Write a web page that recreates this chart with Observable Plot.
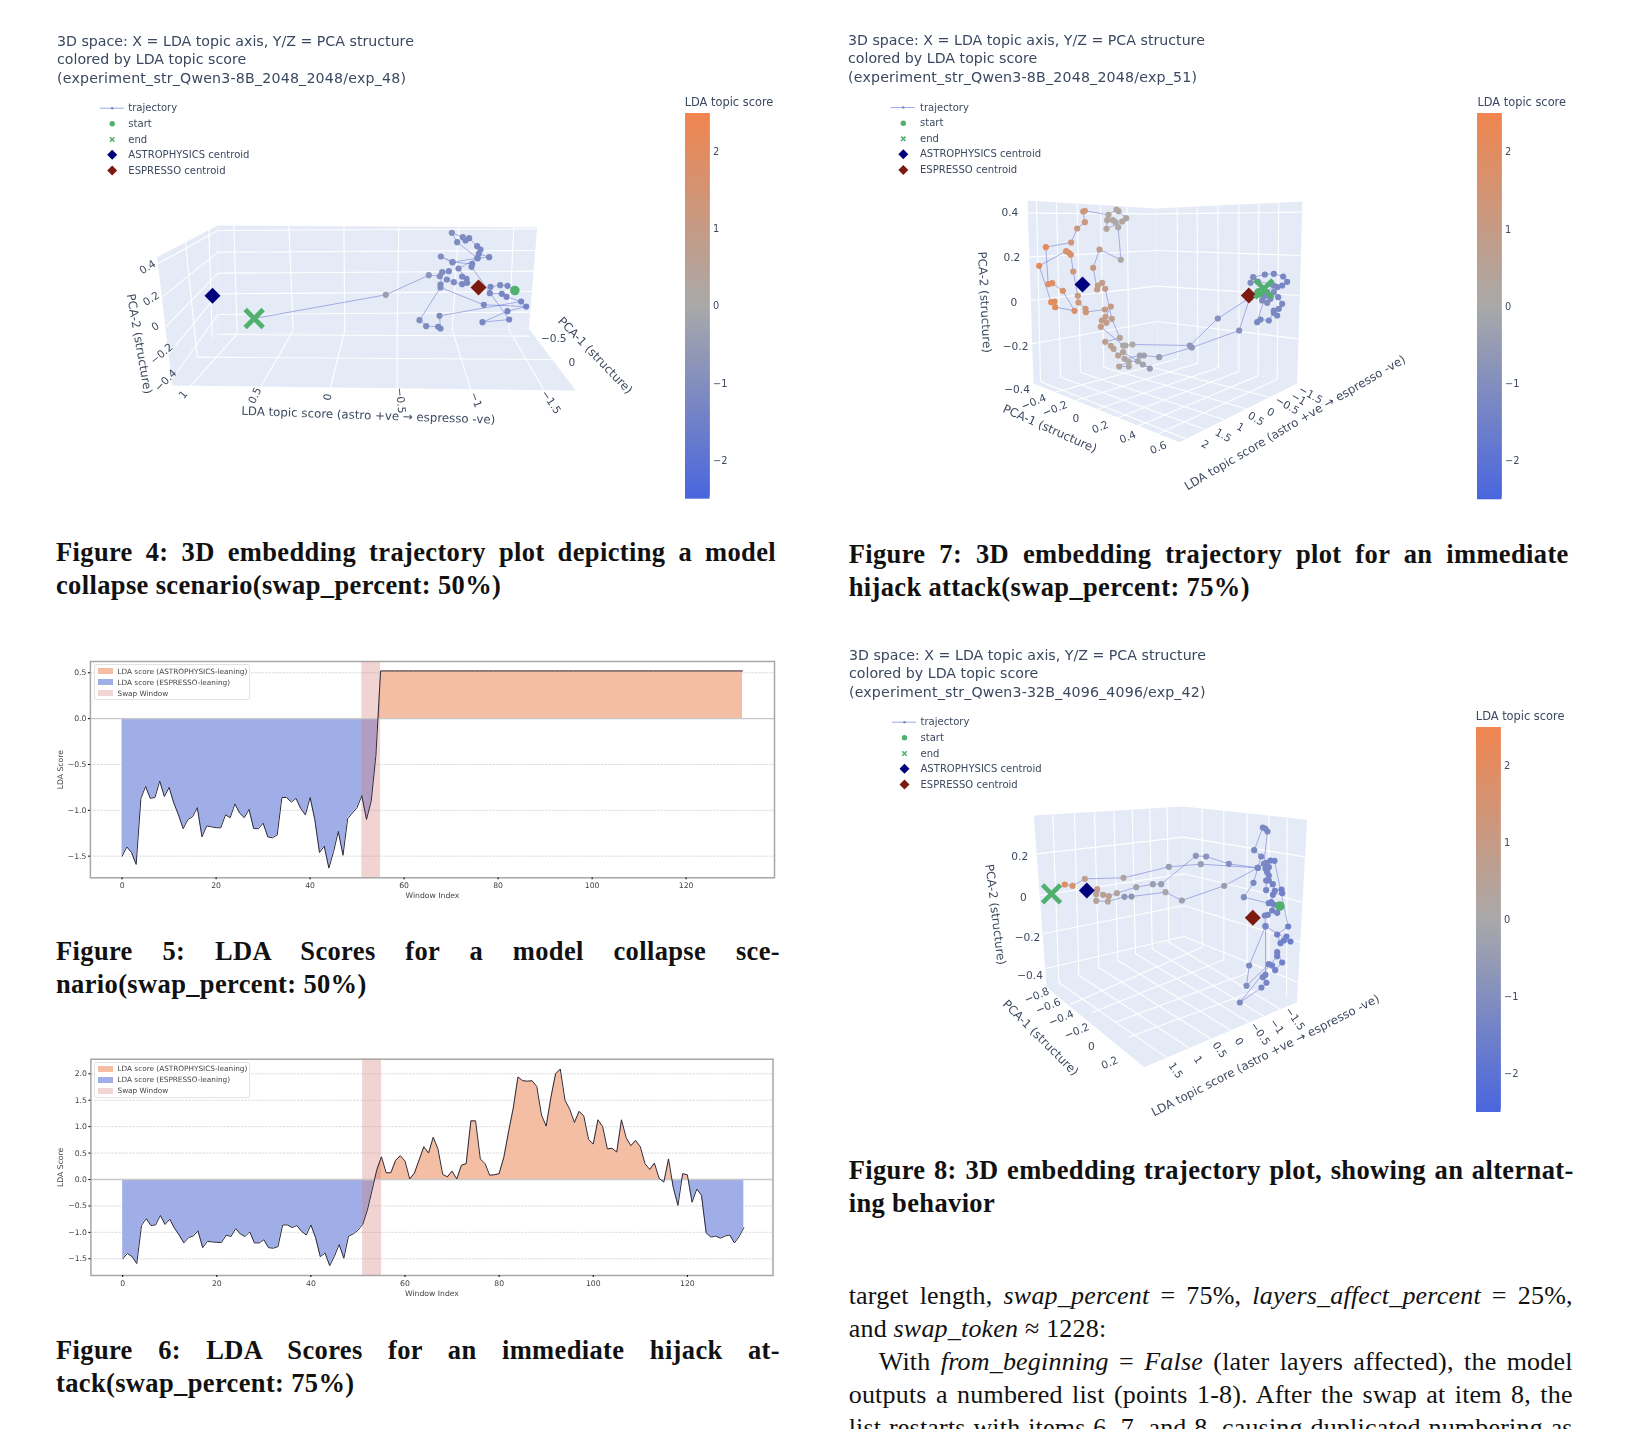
<!DOCTYPE html>
<html><head><meta charset="utf-8">
<script src="https://cdn.jsdelivr.net/npm/d3@7"></script>
<script src="https://cdn.jsdelivr.net/npm/@observablehq/plot@0.6"></script>
<style>
html,body{margin:0;padding:0;background:#fff;}
#page{position:relative;width:1628px;height:1429px;overflow:hidden;background:#fff;}
#page svg,.abs{position:absolute;}
#page svg{background:transparent;overflow:visible;filter:blur(.38px);}
.ttl{position:absolute;font-family:"DejaVu Sans";font-size:14.2px;color:#3a4860;white-space:nowrap;line-height:18.3px;filter:blur(.3px);}
.cap{position:absolute;font-family:"Liberation Serif";font-weight:bold;font-size:26.5px;letter-spacing:.36px;color:#111;white-space:nowrap;line-height:33px;}
.body{position:absolute;font-family:"Liberation Serif";font-size:26px;letter-spacing:.2px;color:#111;white-space:nowrap;line-height:33px;}
.just{text-align:justify;text-align-last:justify;white-space:normal;}
.lg{position:absolute;background:rgba(255,255,255,.85);border:1px solid #e2e2e2;border-radius:2px;font-family:"DejaVu Sans";font-size:7.3px;color:#444;filter:blur(.3px);}
.lg div{position:absolute;left:22.5px;white-space:nowrap;line-height:11px;}
.lg i{position:absolute;left:3px;width:14.5px;height:6px;}
</style></head><body><div id="page"></div>
<script>
// ---------- LDA score series (Figures 5 and 6), window index = array position ----------
const prefixScores = [-1.50,-1.40,-1.46,-1.59,-0.87,-0.74,-0.87,-0.86,-0.68,-0.85,-0.75,-0.92,-1.05,-1.20,-1.10,-1.07,-0.97,-1.29,-1.17,-1.18,-1.19,-1.19,-1.05,-1.08,-0.93,-1.03,-1.08,-0.99,-1.20,-1.20,-1.14,-1.29,-1.30,-1.27,-0.86,-0.86,-0.91,-0.87,-0.98,-1.05,-0.86,-1.10,-1.46,-1.39,-1.63,-1.45,-1.23,-1.49];
const fig5Tail = [-1.09,-1.03,-0.97,-0.84,-1.10,-0.90,-0.40,0.52,0.52,0.52,0.52,0.52,0.52,0.52,0.52,0.52,0.52,0.52,0.52,0.52,0.52,0.52,0.52,0.52,0.52,0.52,0.52,0.52,0.52,0.52,0.52,0.52,0.52,0.52,0.52,0.52,0.52,0.52,0.52,0.52,0.52,0.52,0.52,0.52,0.52,0.52,0.52,0.52,0.52,0.52,0.52,0.52,0.52,0.52,0.52,0.52,0.52,0.52,0.52,0.52,0.52,0.52,0.52,0.52,0.52,0.52,0.52,0.52,0.52,0.52,0.52,0.52,0.52,0.52,0.52,0.52,0.52,0.52,0.52,0.52,0.52,0.52,0.52,0.52,0.52];
const fig6Tail = [-1.07,-1.03,-0.96,-0.85,-0.58,-0.20,0.18,0.43,0.125,0.13,0.36,0.45,0.35,0.01,0.12,0.37,0.62,0.50,0.80,0.58,0.10,0.05,0.16,0.01,0.27,0.30,1.11,1.11,0.39,0.30,0.08,0.09,0.11,0.42,0.90,1.35,1.94,1.87,1.86,1.87,1.76,1.22,1.01,1.55,2.00,2.09,1.50,1.33,1.08,1.29,1.20,0.76,0.67,1.13,1.00,0.58,0.59,0.52,1.13,0.79,0.64,0.74,0.62,0.30,0.19,0.31,0.02,-0.05,0.39,-0.15,-0.49,0.11,0.09,-0.43,-0.18,-0.30,-1.01,-1.09,-1.07,-1.11,-1.07,-1.05,-1.20,-1.08,-0.91];
const lineLegend = ["LDA score (ASTROPHYSICS-leaning)","LDA score (ESPRESSO-leaning)","Swap Window"];
const swapWindow = [51,55];
const xTicks = [0,20,40,60,80,100,120];

// ---------- 3D panels: projected position [u, v, LDA score] ----------
const traj4 = [[1243,255,-1.2],[1221,241,-1.2],[1199,239,-1.2],[1170,244,-1.2],[1168,263,-1.25],[1204,265,-1.3],[1218,274,-1.3],[1262,288,-1.3],[1017,331,-1.1],[1020,369,-1.2],[1013,364,-1.2],[977,362,-1.1],[957,344,-1],[1020,246,-1.1],[1150,298,-1.25],[1277,303,-1.4],[1221,317,-1.3],[1146,350,-1.2],[1226,342,-1.3],[1113,184,-1.2],[1115,175,-1.2],[1056,170,-1.1],[1021,153,-1],[1056,170,-1.1],[1131,158,-1.2],[1166,155,-1.2],[1135,145,-1.2],[1140,132,-1.2],[1130,122,-1.2],[1106,98,-1.2],[1095,105,-1.2],[1087,95,-1.1],[1054,82,-1],[1070,110,-1.1],[1131,158,-1.2],[1074,189,-1.1],[1098,220,-1.2],[1085,213,-1.2],[1100,232,-1.2],[1085,236,-1.2],[1060,230,-1.1],[1039,222,-1.1],[1020,237,-1.1],[1025,200,-1.1],[1045,197,-1.1],[1018,212,-1],[985,209,-0.8],[856,268,-0.45],[461,339,0.5]];
const traj7 = [[850,300,-1.2],[835,295,-1.2],[860,290,-1.2],[880,270,-1.2],[890,275,-1.2],[905,270,-1.3],[920,259,-1.3],[908,243,-1.3],[880,235,-1.2],[853,237,-1.2],[818,245,-1.1],[810,262,-1.1],[832,258,-1.1],[870,265,-1.1],[880,290,-1.1],[893,305,-1.2],[905,325,-1.2],[895,340,-1.2],[880,345,-1.2],[890,360,-1.2],[880,352,-1.2],[865,375,-1.2],[840,372,-1.2],[830,380,-1.2],[855,300,-1.1],[845,315,-1.1],[860,322,-1.1],[850,295,-1.1],[870,310,-1.1],[810,300,-1],[776,405,-0.9],[634,456,-0.7],[536,485,-0.5],[490,480,-0.3],[478,480,-0.3],[432,490,0.2],[445,513,0.1],[416,513,0.4],[445,498,0.1],[472,497,-0.1],[487,507,-0.2],[508,519,-0.5],[428,470,0.4],[413,480,0.6],[399,460,0.6],[391,451,0.7],[374,439,0.7],[418,427,0.5],[394,370,0.8],[374,280,0.9],[365,262,0.8],[352,270,1],[350,282,1],[338,217,1.1],[357,162,0.8],[421,193,0.1],[413,95,0.1],[405,80,0.1],[397,74,0.2],[380,74,0.3],[378,100,0.3],[425,78,0.3],[437,68,0.2],[414,47,0.2],[408,42,0.3],[384,58,0.3],[313,46,1.2],[308,48,1.2],[313,80,1.2],[290,99,1.1],[272,141,1.3],[196,155,2.1],[203,266,1.9],[215,263,1.9],[247,286,1.7],[282,346,1.7],[224,335,2],[222,318,2],[212,320,2],[176,211,2.2],[257,167,1.8],[265,172,1.7],[271,178,1.7],[278,228,1.3],[292,301,1.1],[294,321,1.3],[315,340,1.4],[316,350,1.4],[373,342,1],[391,333,1],[375,364,0.9],[364,375,0.9],[378,382,0.9],[361,394,0.9],[428,450,0.2],[435,450,0.1],[456,447,0],[628,450,-0.7],[712,369,-0.9],[850,280,-1]];
const traj8 = [[778,302,-1.4],[770,322,-1.4],[755,315,-1.4],[742,328,-1.3],[733,330,-1.3],[735,362,-1.3],[735,508,-1.3],[727,515,-1.3],[738,532,-1.3],[723,546,-1.3],[658,591,-1.1],[770,452,-1.4],[770,440,-1.4],[785,471,-1.5],[764,494,-1.4],[755,480,-1.4],[745,476,-1.4],[678,541,-1.1],[686,480,-1.1],[735,362,-1.3],[810,408,-1.6],[790,405,-1.5],[798,393,-1.5],[780,413,-1.5],[770,387,-1.4],[803,363,-1.5],[762,166,-1.4],[750,165,-1.4],[738,172,-1.3],[745,185,-1.3],[735,190,-1.3],[740,200,-1.3],[745,210,-1.3],[745,225,-1.3],[737,225,-1.3],[737,254,-1.3],[757,236,-1.4],[763,256,-1.4],[783,252,-1.5],[785,263,-1.5],[757,268,-1.4],[752,290,-1.4],[745,293,-1.4],[760,297,-1.4],[670,275,-1.1],[699,232,-1.2],[712,187,-1.2],[722,153,-1.2],[701,134,-1.2],[727,66,-1.2],[735,70,-1.2],[741,78,-1.2],[730,175,-1.2],[712,187,-1.2],[625,175,-1],[557,153,-0.8],[526,151,-0.8],[422,236,-0.4],[397,236,-0.4],[347,245,-0.2],[289,263,0.2],[265,272,0.6],[248,268,0.6],[230,251,0.9],[227,266,0.5],[227,286,0.5],[262,288,0.4],[312,274,-0.7],[333,273,-0.7],[435,260,-0.1],[484,285,-0.3],[611,241,-0.4],[712,187,-1.2],[541,176,-0.4],[445,184,-0.4],[309,217,0.2],[193,220,0.8],[156,241,1.6],[133,237,2],[93,265,2.2]];
// start, end, astrophysics centroid, espresso centroid
const marks4 = [[1243,255],[461,339],[336,271],[1134,246]];
const marks7 = [[835,292],[850,280],[306,267],[805,300]];
const marks8 = [[778,302],[93,265],[199,255],[697,337]];
// wall and floor outlines
const planes4 = [[[350,60],[1310,65],[1285,370],[352,385]],[[170,155],[350,60],[352,385],[215,540]],[[215,540],[352,385],[1285,370],[1426,555]]];
const planes7 = [[[141,15],[527,39],[531,478],[159,564]],[[527,39],[966,18],[950,564],[531,478]],[[159,564],[531,478],[950,564],[597,740]]];
const planes8 = [[[40,30],[490,3],[490,393],[78,545]],[[490,3],[860,43],[829,590],[490,393]],[[78,545],[490,393],[829,590],[371,785]]];
// grid lines [u1,v1,u2,v2]
const grid4 = [[352,75,1308,70],[352,140,1305,135],[352,203,1300,197],[352,265,1295,258],[352,327,1290,320],[172,175,352,75],[185,275,352,140],[195,365,352,203],[205,445,352,265],[212,525,352,327],[255,110,290,455],[325,72,335,395],[400,60,410,385],[565,60,578,375],[730,60,733,375],[895,60,890,375],[1075,62,1055,373],[1240,64,1225,372],[410,385,270,542],[578,375,480,545],[733,375,690,546],[890,375,890,548],[1055,373,1110,550],[1225,372,1330,553],[290,455,1355,462],[352,387,1290,392]];
const grid7 = [[141,53,527,55],[145,185,529,165],[150,315,530,272],[155,445,531,378],[527,55,965,50],[529,165,960,180],[530,272,955,300],[531,378,952,430],[168,17,180,559],[228,20,240,545],[290,24,300,531],[360,29,370,515],[440,33,445,498],[590,36,592,490],[650,33,652,503],[712,30,714,516],[775,27,775,528],[835,24,833,541],[895,21,890,552],[180,559,617,730],[240,545,674,702],[300,531,731,673],[370,515,797,640],[445,498,868,605],[592,490,223,590],[652,503,286,615],[714,516,350,641],[775,528,414,666],[833,541,474,691],[890,552,534,715]];
const grid8 = [[48,145,490,95],[58,270,490,205],[66,385,490,300],[72,490,490,393],[490,95,857,155],[490,205,848,290],[490,300,840,410],[490,393,832,530],[97,27,115,531],[162,22,175,509],[222,18,235,487],[280,15,292,465],[335,12,345,445],[388,9,395,430],[440,6,445,410],[545,9,545,425],[610,16,610,463],[680,24,680,503],[745,31,745,541],[800,37,798,572],[115,531,440,757],[175,509,505,727],[235,487,570,699],[292,465,630,674],[345,445,685,650],[395,430,730,632],[445,410,780,611],[545,425,150,596],[610,463,215,621],[680,503,285,650],[745,541,325,695]];
// tick and axis labels as read: [text, u, v, rotation, size]
const labels4 = [["0.4",283,800,-32],["0.2",290,895,-32],["0",298,978,-32],["−0.2",310,1060,-40],["−0.4",318,1140,-45],["PCA-2 (structure)",267,1030,80,1],["1",352,1183,-50],["0.5",490,1185,-65],["0",630,1190,-80],["−0.5",770,1200,85],["−1",915,1198,70],["−1.5",1060,1205,55],["LDA topic score (astro +ve → espresso -ve)",708,1245,2,1],["−0.5",1065,1015,0],["0",1100,1087,0],["PCA-1 (structure)",1145,1065,46,1]];
const labels7 = [["0.4",376,635,0],["0.2",380,772,0],["0",384,907,0],["−0.2",387,1038,0],["−0.4",390,1168,0],["PCA-2 (structure)",327,905,87,1],["−0.4",422,1205,-22],["−0.2",463,1225,-22],["0",503,1255,0],["0.2",550,1280,-22],["0.4",603,1310,-22],["0.6",662,1342,-22],["PCA-1 (structure)",453,1285,24,1],["2",752,1332,30],["1.5",787,1305,30],["1",820,1280,30],["0.5",850,1255,30],["0",878,1235,30],["−0.5",910,1215,30],["−1",932,1195,30],["−1.5",955,1183,30],["LDA topic score (astro +ve → espresso -ve)",925,1267,-30.5,1]];
const labels8 = [["0.2",395,647,0],["0",402,772,0],["−0.2",410,890,0],["−0.4",415,1005,0],["PCA-2 (structure)",348,822,83,1],["−0.8",428,1065,-22],["−0.6",450,1097,-22],["−0.4",475,1133,-22],["−0.2",505,1172,-22],["0",533,1217,0],["0.2",568,1267,-22],["PCA-1 (structure)",435,1192,45,1],["1.5",695,1290,55],["1",738,1258,55],["0.5",780,1228,55],["0",817,1203,55],["−0.5",858,1180,55],["−1",890,1158,55],["−1.5",925,1135,55],["LDA topic score (astro +ve → espresso -ve)",868,1245,-27,1]];
const legendLabels = ["trajectory","start","end","ASTROPHYSICS centroid","ESPRESSO centroid"];
const barTicks = [-2,-1,0,1,2];
const titles = [
 ["3D space: X = LDA topic axis, Y/Z = PCA structure","colored by LDA topic score","(experiment_str_Qwen3-8B_2048_2048/exp_48)"],
 ["3D space: X = LDA topic axis, Y/Z = PCA structure","colored by LDA topic score","(experiment_str_Qwen3-8B_2048_2048/exp_51)"],
 ["3D space: X = LDA topic axis, Y/Z = PCA structure","colored by LDA topic score","(experiment_str_Qwen3-32B_4096_4096/exp_42)"]];

const page = document.getElementById("page");
const FONT = "DejaVu Sans", INK = "#3d4a60", SQ = 1.925;
const scoreColor = {type:"linear",domain:[-2.5,0,2.5],range:["#4a66de","#a9a9a9","#f0854f"],interpolate:"rgb"};
const GREEN = "#52b06f", NAVY = "#00007d", MAROON = "#7c1a10";
const diamond = {draw(c,s){const a=Math.sqrt(s/Math.PI);c.moveTo(0,-a);c.lineTo(a,0);c.lineTo(0,a);c.lineTo(-a,0);c.closePath();}};
const cross = {draw(c,s){const a=Math.sqrt(s/Math.PI);c.moveTo(-a,-a);c.lineTo(a,a);c.moveTo(-a,a);c.lineTo(a,-a);}};

function put(el,left,top){el.style.left=left+"px";el.style.top=top+"px";page.appendChild(el);return el;}

function panel3d(o){
  const {L,T,W,H,read,squish,traj,marks,planes,grid,labels,legendX,textX,legendY,espressoFirst} = o;
  const pt = p=>read(p);
  const rows = traj.map(p=>{const q=pt(p);return {x:q[0],y:q[1],s:p[2]};});
  const polys = planes.flatMap((q,i)=>q.map(p=>{const r=pt(p);return {x:r[0],y:r[1],i};}));
  const links = grid.map(g=>{const a=pt([g[0],g[1]]),b=pt([g[2],g[3]]);return {x1:a[0],y1:a[1],x2:b[0],y2:b[1]};});
  const txt = labels.map(l=>{const q=squish([l[1],l[2]]);return {t:l[0],x:q[0],y:q[1],r:l[3],big:!!l[4]};});
  const [st,en,as,es] = marks.map(pt);
  const one = (p)=>[{x:p[0],y:p[1]}];
  const legY = legendLabels.map((t,i)=>({t,y:legendY[i],x:textX,sx:legendX}));
  const endMark = Plot.dot(one(en),{x:"x",y:"y",symbol:cross,r:9,stroke:GREEN,strokeWidth:4.8,fill:"none"});
  const esMark = Plot.dot(one(es),{x:"x",y:"y",symbol:diamond,r:8,fill:MAROON});
  const svg = Plot.plot({
    width:W,height:H,margin:0,
    style:{fontFamily:FONT,background:"transparent"},
    x:{domain:[L,L+W],range:[0,W],axis:null},
    y:{domain:[T,T+H],range:[0,H],axis:null},
    color:scoreColor,
    marks:[
      Plot.line(polys,{x:"x",y:"y",z:"i",fill:"#e5ebf6",stroke:"none"}),
      Plot.link(links,{x1:"x1",y1:"y1",x2:"x2",y2:"y2",stroke:"#fff",strokeWidth:1.1,strokeOpacity:.95}),
      Plot.text(txt,{x:"x",y:"y",text:"t",rotate:"r",fill:INK,fontSize:d=>d.big?11.8:10.6}),
      Plot.line(rows,{x:"x",y:"y",stroke:"#6a75d8",strokeWidth:.9,strokeOpacity:.62}),
      Plot.dot(rows,{x:"x",y:"y",r:3.1,fill:"s"}),
      Plot.dot(one(st),{x:"x",y:"y",r:4.8,fill:GREEN}),
      ...(espressoFirst?[esMark,endMark]:[endMark,esMark]),
      Plot.dot(one(as),{x:"x",y:"y",symbol:diamond,r:8,fill:NAVY}),
      // legend
      Plot.link(legY.slice(0,1),{x1:d=>d.sx-12.5,x2:d=>d.sx+11.5,y1:"y",y2:"y",stroke:"#6a75d8",strokeWidth:.9,strokeOpacity:.7}),
      Plot.dot(legY.slice(0,1),{x:"sx",y:"y",r:1.3,fill:"#7b8ac4"}),
      Plot.dot(legY.slice(1,2),{x:"sx",y:"y",r:2.7,fill:GREEN}),
      Plot.dot(legY.slice(2,3),{x:"sx",y:"y",symbol:cross,r:2.2,stroke:GREEN,strokeWidth:1.6,fill:"none"}),
      Plot.dot(legY.slice(3,4),{x:"sx",y:"y",symbol:diamond,r:5,fill:NAVY}),
      Plot.dot(legY.slice(4,5),{x:"sx",y:"y",symbol:diamond,r:5,fill:MAROON}),
      Plot.text(legY,{x:"x",y:"y",text:"t",textAnchor:"start",fill:INK,fontSize:10.05})
    ]
  });
  put(svg,L,T);
}

function colorBar(left,top,height,titleTop){
  const W=64;
  const svg = Plot.plot({
    width:W,height,margin:0,marginRight:W-24.5,
    style:{fontFamily:FONT,background:"transparent"},
    x:{domain:[0,1],axis:null},
    y:{domain:[-2.5,2.5]},
    color:scoreColor,
    marks:[
      Plot.rect(d3.range(-2.5,2.5,0.025),{x1:0,x2:1,y1:d=>d,y2:d=>Math.min(d+0.08,2.5),fill:d=>d+0.0125}),
      Plot.axisY({anchor:"right",ticks:barTicks,tickSize:0,tickPadding:3,label:null,fontSize:9.8,fill:INK,tickFormat:d=>String(d).replace("-","−")})
    ]
  });
  put(svg,left,top);
  const t=document.createElement("div");
  t.className="ttl";t.style.fontSize="11.4px";t.style.lineHeight="14px";t.textContent="LDA topic score";
  put(t,left,titleTop);
}

function withCrossings(vals){
  const out=[];
  vals.forEach((v,i)=>{out.push({x:i,v});const n=vals[i+1];if(n!==undefined&&v*n<0)out.push({x:i+(-v)/(n-v),v:0});});
  return out;
}
function lineChart(o){
  const {vals,left,top,W,H,mL,mR,mT,mB,xDomain,yDomain,yTicks} = o;
  const t = withCrossings(vals);
  const fmt = d=>d3.format(".1f")(d).replace("-","−");
  const svg = Plot.plot({
    width:W,height:H,marginLeft:mL,marginRight:mR,marginTop:mT,marginBottom:mB,
    style:{fontFamily:FONT,background:"transparent"},
    x:{domain:xDomain},y:{domain:yDomain},
    marks:[
      Plot.gridY(yTicks.filter(d=>d!==0),{stroke:"#d8d8d8",strokeOpacity:1,strokeWidth:.9,strokeDasharray:"2.5,1"}),
      Plot.areaY(t,{x:"x",y1:0,y2:d=>Math.max(d.v,0),fill:"#f4bea5"}),
      Plot.areaY(t,{x:"x",y1:0,y2:d=>Math.min(d.v,0),fill:"#a0aee8"}),
      Plot.rect([swapWindow],{x1:d=>d[0],x2:d=>d[1],fill:"#d47a76",fillOpacity:.33}),
      Plot.ruleY([0],{stroke:"#c8c8c8",strokeWidth:1.3}),
      Plot.line(t.filter(d=>Number.isInteger(d.x)),{x:"x",y:"v",stroke:"#2b2b3c",strokeWidth:1}),
      Plot.frame({stroke:"#a6a6a6",strokeWidth:1.5}),
      Plot.axisX({ticks:xTicks,tickSize:2,tickPadding:3,fontSize:7.7,fill:"#444",label:"Window Index",labelAnchor:"center",labelArrow:"none",labelOffset:20,tickFormat:d=>String(d)}),
      Plot.axisY({ticks:yTicks,tickSize:2,tickPadding:2,fontSize:7.7,fill:"#444",label:"LDA Score",labelAnchor:"center",labelArrow:"none",labelOffset:33,tickFormat:fmt})
    ]
  });
  put(svg,left,top);
  const lg=document.createElement("div");lg.className="lg";
  lg.style.width="154px";lg.style.height="34px";
  const cols=["#f4bea5","#a0aee8","#f2d4d2"];
  lineLegend.forEach((s,i)=>{
    const sw=document.createElement("i");sw.style.top=(3.4+i*11)+"px";sw.style.background=cols[i];lg.appendChild(sw);
    const d=document.createElement("div");d.style.top=(0.9+i*11)+"px";d.textContent=s;lg.appendChild(d);
  });
  put(lg,o.lgX,o.lgY);
}

function block(cls,html,left,top,width){
  const d=document.createElement("div");d.className=cls;d.innerHTML=html;if(width)d.style.width=width+"px";
  return put(d,left,top);
}
function titleBlock(i,x,y,spacing){
  block("ttl",titles[i].map((s,j)=>j===2?`<span style="letter-spacing:${spacing}px">${s}</span>`:s).join("<br>"),x,y);
}
function capLines(lines,x,firstCenter,width){
  lines.forEach((s,i)=>block("cap"+(i===0?" just":""),s,x,firstCenter-16.5+i*33,i===0?width:null));
}

// Figures 4, 7, 8
titleBlock(0,57,32,.19);
panel3d({L:0,T:95,W:814,H:425,read:p=>[p[0]/3+100,p[1]/3+205],squish:p=>[p[0]/SQ,p[1]/3],traj:traj4,marks:marks4,planes:planes4,grid:grid4,labels:labels4,legendX:111.7,textX:127.8,legendY:[107.7,123.3,139,154.3,170]});
colorBar(684.7,113.3,385.7,94.5);

titleBlock(1,848,31,.19);
panel3d({L:814,T:95,W:814,H:425,read:p=>[p[0]/3+980,p[1]/3+195],squish:p=>[814+p[0]/SQ,p[1]/3],traj:traj7,marks:marks7,planes:planes7,grid:grid7,labels:labels7,legendX:902.8,textX:919.5,legendY:[107,122.7,138.3,153.7,169.5],espressoFirst:true});
colorBar(1477.4,112.7,386.3,94.5);

titleBlock(2,849,646,.15);
panel3d({L:814,T:712,W:814,H:420,read:p=>[p[0]/3+1020,p[1]/3+805],squish:p=>[814+p[0]/SQ,640+p[1]/3],traj:traj8,marks:marks8,planes:planes8,grid:grid8,labels:labels8,legendX:904,textX:920,legendY:[721.7,737.3,753,768.3,784]});
colorBar(1475.8,727.3,385,709);

// Figures 5, 6
lineChart({vals:prefixScores.concat(fig5Tail),left:0,top:640,W:814,H:280,mL:89.9,mR:40,mT:21,mB:42.7,xDomain:[-6.74,138.8],yDomain:[-1.736,0.623],yTicks:[-1.5,-1,-0.5,0,0.5],lgX:94,lgY:664});
lineChart({vals:prefixScores.concat(fig6Tail),left:0,top:1040,W:814,H:280,mL:90.4,mR:41.5,mT:18.7,mB:45,xDomain:[-6.75,138.2],yDomain:[-1.816,2.276],yTicks:[-1.5,-1,-0.5,0,0.5,1,1.5,2],lgX:94,lgY:1061.5});

// Captions
capLines(["Figure 4: 3D embedding trajectory plot depicting a model","collapse scenario(swap_percent: 50%)"],56,552,720);
capLines(["Figure 7: 3D embedding trajectory plot for an immediate","hijack attack(swap_percent: 75%)"],848.7,554.5,720);
capLines(["Figure 5: LDA Scores for a model collapse sce-","nario(swap_percent: 50%)"],56,951.2,724);
capLines(["Figure 8: 3D embedding trajectory plot, showing an alternat-","ing behavior"],848.7,1170.7,725);
capLines(["Figure 6: LDA Scores for an immediate hijack at-","tack(swap_percent: 75%)"],56,1350,724);

// Body text
const bodyLines = [
 ["target length, <i>swap_percent</i> = 75%, <i>layers_affect_percent</i> = 25%,",848.7,1295.7,724],
 ["and <i>swap_token</i> ≈ 1228:",848.7,1328.5,0],
 ["With <i>from_beginning</i> = <i>False</i> (later layers affected), the model",878.7,1361,694],
 ["outputs a numbered list (points 1-8). After the swap at item 8, the",848.7,1394.7,724],
 ["list restarts with items 6, 7, and 8, causing duplicated numbering as",848.7,1427.5,724]];
bodyLines.forEach(b=>block("body"+(b[3]?" just":""),b[0],b[1],b[2]-16.5,b[3]||null));
</script></body></html>
